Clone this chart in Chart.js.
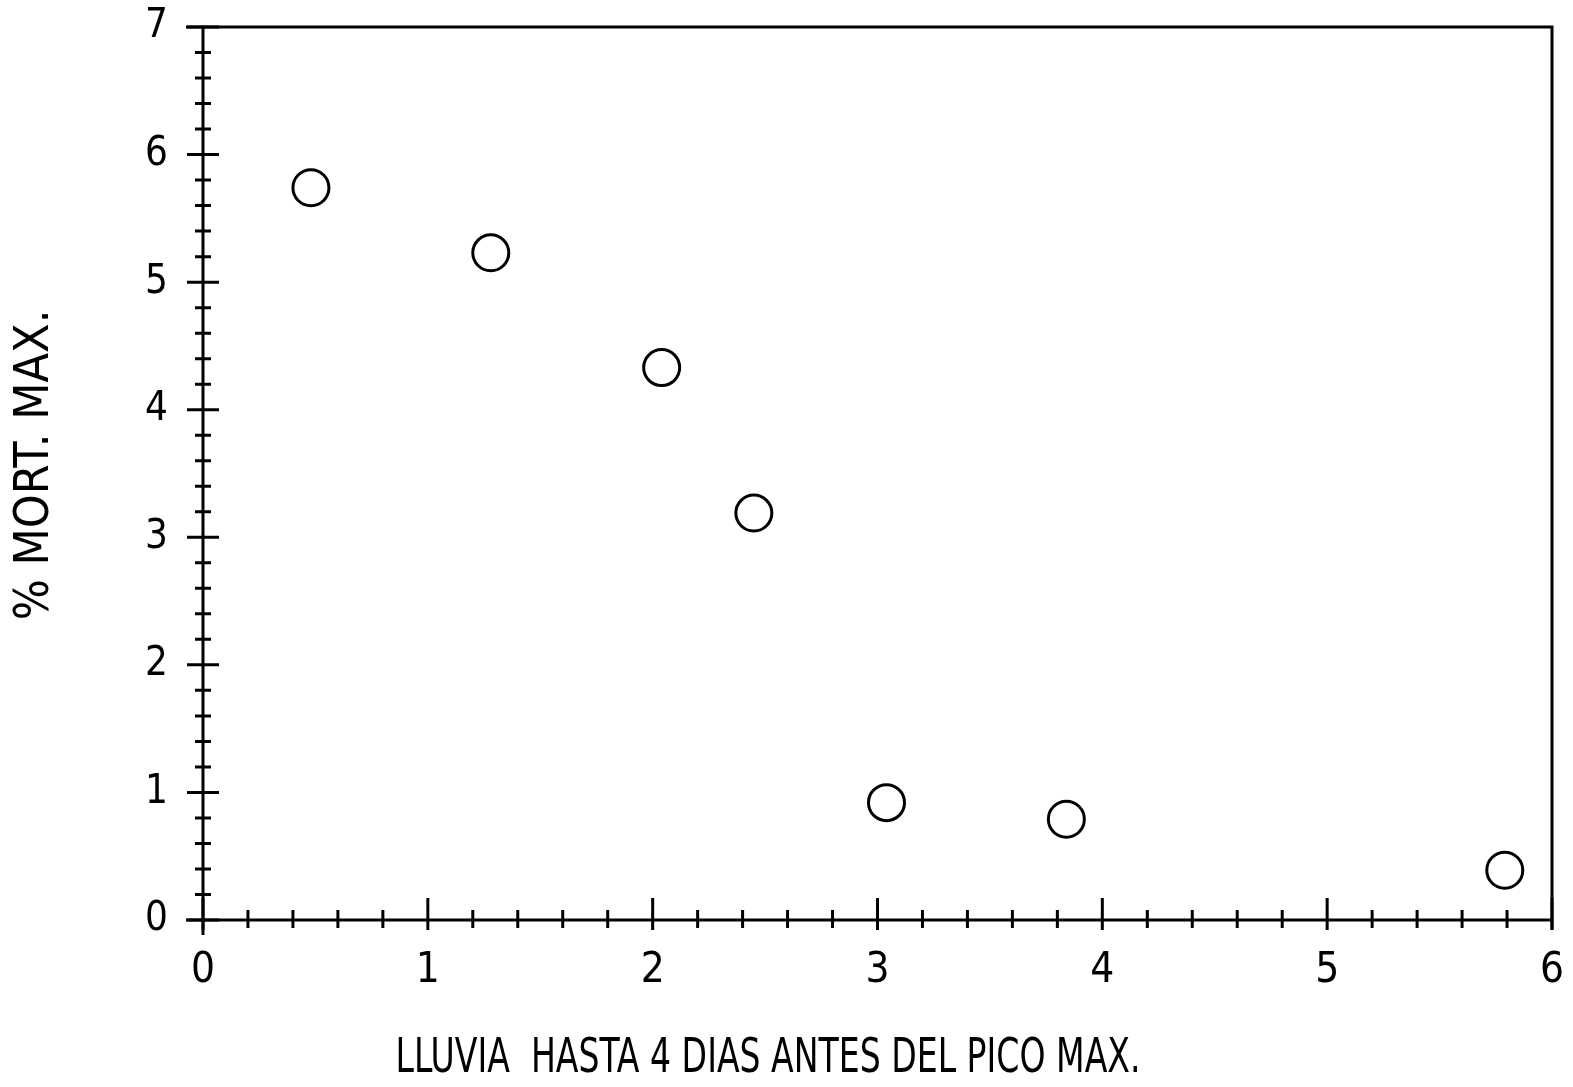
<!DOCTYPE html>
<html>
<head>
<meta charset="utf-8">
<script src="https://cdn.jsdelivr.net/npm/chart.js@4.4.1/dist/chart.umd.min.js"></script>
<style>
  html, body { margin: 0; padding: 0; background: #fff; overflow: hidden; }
  canvas { display: block; }
</style>
</head>
<body>
<canvas id="myChart" width="1573" height="1087"></canvas>
<script>
// values
var lluvia = [0.48, 1.28, 2.04, 2.45, 3.04, 3.84, 5.79];
var mortalidad = [5.74, 5.23, 4.33, 3.19, 0.92, 0.79, 0.39];
var xTitle = 'LLUVIA  HASTA 4 DIAS ANTES DEL PICO MAX.';
var yTitle = '% MORT. MAX.';

var fontFam = '"Liberation Sans Narrow", "DejaVu Sans Condensed", "Liberation Sans", sans-serif';

var points = [];
for (var i = 0; i < lluvia.length; i++) {
    points.push({ x: lluvia[i], y: mortalidad[i] });
}

function isMajor(v) {
    return Math.abs(v - Math.round(v)) < 1e-6;
}

// frame, crossing ticks and axis titles
var framePlugin = {
    id: 'frame',
    afterDraw: function(chart) {
        var ctx = chart.ctx;
        var a = chart.chartArea;
        var xs = chart.scales.x;
        var ys = chart.scales.y;
        ctx.save();
        ctx.strokeStyle = '#000';
        ctx.lineWidth = 3;
        ctx.beginPath();
        ctx.moveTo(a.left - 17, a.top);
        ctx.lineTo(a.right, a.top);
        ctx.lineTo(a.right, a.bottom + 10);
        ctx.moveTo(a.left - 17, a.bottom);
        ctx.lineTo(a.right, a.bottom);
        ctx.moveTo(a.left, a.top);
        ctx.lineTo(a.left, a.bottom + 15);
        ctx.stroke();

        ctx.beginPath();
        ys.ticks.forEach(function(t) {
            var py = ys.getPixelForValue(t.value);
            var len = isMajor(t.value) ? 16 : 8;
            ctx.moveTo(a.left - len, py);
            ctx.lineTo(a.left + len, py);
        });
        xs.ticks.forEach(function(t) {
            var px = xs.getPixelForValue(t.value);
            if (isMajor(t.value)) {
                ctx.moveTo(px, a.bottom - 22);
                ctx.lineTo(px, a.bottom + 10);
            } else {
                ctx.moveTo(px, a.bottom - 10);
                ctx.lineTo(px, a.bottom + 8);
            }
        });
        ctx.stroke();

        ctx.fillStyle = '#000';
        ctx.font = '48px ' + fontFam;
        ctx.textAlign = 'center';
        ctx.textBaseline = 'middle';
        ctx.fillText(xTitle, 768, 1060, 745);
        ctx.translate(36, 465);
        ctx.rotate(-Math.PI / 2);
        ctx.fillText(yTitle, 0, 0, 316);
        ctx.restore();
    }
};

var ctx = document.getElementById('myChart');
var chart = new Chart(ctx, {
    type: 'scatter',
    data: {
        datasets: [{
            data: points,
            pointStyle: 'circle',
            pointRadius: 18,
            pointHoverRadius: 18,
            borderWidth: 3,
            borderColor: '#000',
            backgroundColor: 'rgba(255,255,255,0)'
        }]
    },
    options: {
        responsive: false,
        animation: false,
        devicePixelRatio: 1,
        layout: { padding: { left: 0, right: 15, top: 27, bottom: 0 } },
        plugins: {
            legend: { display: false },
            tooltip: { enabled: false }
        },
        scales: {
            x: {
                type: 'linear',
                min: 0,
                max: 6,
                afterFit: function(s) {
                    s.height = 167;
                    s.paddingLeft = 0;
                    s.paddingRight = 0;
                },
                border: { display: false },
                grid: { display: false, drawTicks: false },
                ticks: {
                    stepSize: 0.2,
                    autoSkip: false,
                    maxRotation: 0,
                    padding: 26,
                    color: '#000',
                    font: { family: fontFam, size: 42 },
                    callback: function(v) { return isMajor(v) ? String(Math.round(v)) : ''; }
                }
            },
            y: {
                type: 'linear',
                min: 0,
                max: 7,
                afterFit: function(s) {
                    s.width = 203;
                    s.paddingTop = 0;
                    s.paddingBottom = 0;
                },
                border: { display: false },
                grid: { display: false, drawTicks: false },
                ticks: {
                    stepSize: 0.2,
                    autoSkip: false,
                    padding: 35,
                    color: '#000',
                    font: { family: fontFam, size: 40 },
                    callback: function(v) { return isMajor(v) ? String(Math.round(v)) : ''; }
                }
            }
        }
    },
    plugins: [framePlugin]
});
</script>
</body>
</html>
